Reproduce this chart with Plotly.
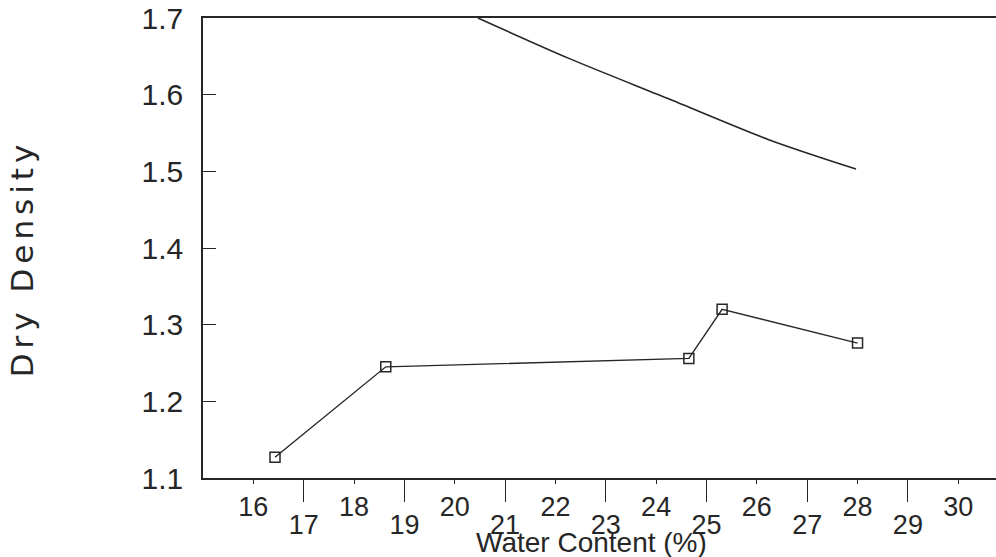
import plotly.graph_objects as go

# Compaction test results: water content (%) vs dry density
water_content = [16.43, 18.63, 24.65, 25.31, 28.0]
dry_density = [1.127, 1.245, 1.256, 1.320, 1.276]

# Zero-air-voids (saturation) line
zav_water = [20.46, 22.28, 24.27, 26.25, 27.97]
zav_density = [1.700, 1.647, 1.594, 1.541, 1.503]

x_odd_ticks = [17, 19, 21, 23, 25, 27, 29]
x_even_ticks = [16, 18, 20, 22, 24, 26, 28, 30]
y_ticks = [1.1, 1.2, 1.3, 1.4, 1.5, 1.6, 1.7]

INK = "#262626"
NUM_FONT = "Liberation Sans Narrow, Arial Narrow, Liberation Sans, Arial, sans-serif"

fig = go.Figure()

fig.add_trace(go.Scatter(
    x=zav_water, y=zav_density, mode="lines",
    line=dict(color=INK, width=1.6, shape="spline", smoothing=0.8),
    showlegend=False,
))

fig.add_trace(go.Scatter(
    x=water_content, y=dry_density, mode="lines+markers",
    line=dict(color=INK, width=1.4),
    marker=dict(symbol="square-open", size=10, color=INK, line=dict(width=1.5, color=INK)),
    showlegend=False,
))

x_range = [15.0, 30.75]

fig.update_layout(
    width=996, height=557,
    margin=dict(l=203, r=0, t=18, b=79),
    paper_bgcolor="white", plot_bgcolor="white",
    xaxis=dict(
        range=x_range, showgrid=False, zeroline=False,
        showline=True, linecolor=INK, linewidth=1.6, mirror=True,
        tickmode="array", tickvals=x_odd_ticks, ticktext=[str(v) for v in x_odd_ticks],
        ticks="outside", ticklen=22, tickwidth=1.4, tickcolor=INK,
        tickfont=dict(family=NUM_FONT, size=27, color=INK),
        ticklabelstandoff=0,
    ),
    xaxis2=dict(
        range=x_range, overlaying="x", anchor="y", side="bottom",
        showgrid=False, zeroline=False, showline=False,
        tickmode="array", tickvals=x_even_ticks, ticktext=[str(v) for v in x_even_ticks],
        ticks="outside", ticklen=5, tickwidth=1.4, tickcolor=INK,
        tickfont=dict(family=NUM_FONT, size=27, color=INK),
        ticklabelstandoff=0,
    ),
    yaxis=dict(
        range=[1.1, 1.7], showgrid=False, zeroline=False,
        showline=True, linecolor=INK, linewidth=1.6, mirror=False,
        tickmode="array", tickvals=y_ticks, ticktext=[f"{v:.1f}" for v in y_ticks],
        ticks="inside", ticklen=13, tickwidth=1.4, tickcolor=INK,
        tickfont=dict(family="Liberation Sans, Arial, sans-serif", size=30, color=INK),
        ticklabelstandoff=12,
    ),
    annotations=[
        dict(text="Water Content (%)", xref="paper", yref="paper",
             x=0.4905, y=-0.141, xanchor="center", yanchor="middle", showarrow=False,
             font=dict(family=NUM_FONT, size=28, color=INK)),
        dict(text='<span style="letter-spacing:5px">Dry Density</span>',
             xref="paper", yref="paper",
             x=-0.228, y=0.478, xanchor="center", yanchor="middle", showarrow=False,
             textangle=-90,
             font=dict(family="DejaVu Sans, Verdana, sans-serif", size=31, color=INK)),
    ],
)

# an invisible trace binds the second x axis so its ticks are drawn
fig.add_trace(go.Scatter(x=[x_range[0]], y=[1.1], xaxis="x2", mode="markers",
                         marker=dict(opacity=0), showlegend=False, hoverinfo="skip"))

fig.write_html("out.html")
